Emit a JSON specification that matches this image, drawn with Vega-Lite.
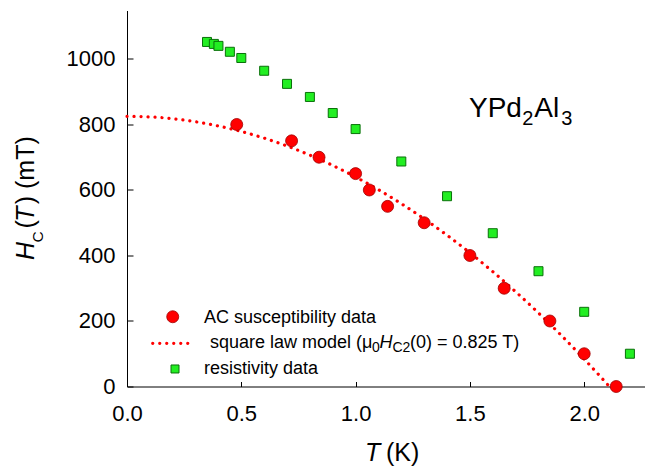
{
  "$schema": "https://vega.github.io/schema/vega-lite/v6.json",
  "width": 518,
  "height": 376,
  "autosize": {"type": "none"},
  "padding": {"left": 127, "top": 10.5, "right": 0, "bottom": 80.5},
  "background": "white",
  "config": {
    "view": {"stroke": null},
    "font": "Liberation Sans",
    "axis": {
      "grid": false,
      "title": null,
      "domainColor": "black",
      "domainWidth": 1,
      "tickColor": "black",
      "tickWidth": 1,
      "labelColor": "black",
      "labelFont": "Liberation Sans",
      "labelFontSize": 22,
      "labelFlush": false,
      "labelOverlap": false
    }
  },
  "encoding": {
    "x": {
      "field": "T",
      "type": "quantitative",
      "scale": {"domain": [0, 2.266], "nice": false, "zero": false},
      "axis": {"values": [0, 0.5, 1, 1.5, 2], "format": ".1f", "tickSize": -5, "labelPadding": 22}
    },
    "y": {
      "field": "H",
      "type": "quantitative",
      "scale": {"domain": [0, 1148], "nice": false, "zero": false},
      "axis": {"values": [0, 200, 400, 600, 800, 1000], "format": "d", "tickSize": -6, "labelPadding": 18}
    }
  },
  "layer": [
    {
      "data": {"values": [
        {"T": 0, "H": 825}, {"T": 0.1, "H": 823.1}, {"T": 0.2, "H": 817.6}, {"T": 0.3, "H": 808.3},
        {"T": 0.4, "H": 795.4}, {"T": 0.5, "H": 778.7}, {"T": 0.6, "H": 758.3}, {"T": 0.7, "H": 734.2},
        {"T": 0.8, "H": 706.4}, {"T": 0.9, "H": 674.9}, {"T": 1.0, "H": 639.7}, {"T": 1.1, "H": 600.8},
        {"T": 1.2, "H": 558.2}, {"T": 1.3, "H": 511.8}, {"T": 1.4, "H": 461.8}, {"T": 1.5, "H": 408.1},
        {"T": 1.6, "H": 350.6}, {"T": 1.7, "H": 289.5}, {"T": 1.8, "H": 224.6}, {"T": 1.9, "H": 156.0},
        {"T": 2.0, "H": 83.8}, {"T": 2.05, "H": 46.2}, {"T": 2.11, "H": 0}
      ]},
      "mark": {"type": "line", "color": "#ff0000", "strokeWidth": 3.2, "strokeDash": [0.1, 6.9], "strokeCap": "round", "interpolate": "monotone"}
    },
    {
      "data": {"values": [
        {"T": 0.35, "H": 1052}, {"T": 0.38, "H": 1046}, {"T": 0.40, "H": 1040}, {"T": 0.45, "H": 1022},
        {"T": 0.50, "H": 1003}, {"T": 0.60, "H": 964}, {"T": 0.70, "H": 924}, {"T": 0.80, "H": 884},
        {"T": 0.90, "H": 835}, {"T": 1.00, "H": 786}, {"T": 1.20, "H": 687}, {"T": 1.40, "H": 581},
        {"T": 1.60, "H": 468}, {"T": 1.80, "H": 352}, {"T": 2.00, "H": 228}, {"T": 2.20, "H": 100}
      ]},
      "mark": {"type": "point", "shape": "square", "filled": true, "fill": "#22ee22", "stroke": "#0a700a", "strokeWidth": 1, "size": 81, "opacity": 1}
    },
    {
      "data": {"values": [
        {"T": 0.48, "H": 800}, {"T": 0.72, "H": 750}, {"T": 0.84, "H": 700}, {"T": 1.00, "H": 650},
        {"T": 1.06, "H": 600}, {"T": 1.14, "H": 550}, {"T": 1.30, "H": 500}, {"T": 1.50, "H": 400},
        {"T": 1.65, "H": 300}, {"T": 1.85, "H": 200}, {"T": 2.00, "H": 100}, {"T": 2.14, "H": 0}
      ]},
      "mark": {"type": "point", "shape": "circle", "filled": true, "fill": "#ff0000", "stroke": "#a00000", "strokeWidth": 0.8, "size": 144, "opacity": 1}
    },
    {
      "data": {"values": [{"T": 0.2, "H": 213}]},
      "mark": {"type": "point", "shape": "circle", "filled": true, "fill": "#ff0000", "stroke": "#a00000", "strokeWidth": 0.8, "size": 144, "opacity": 1}
    },
    {
      "data": {"values": [{"T": 0.21, "H": 53.5}]},
      "mark": {"type": "point", "shape": "square", "filled": true, "fill": "#22ee22", "stroke": "#0a700a", "strokeWidth": 1, "size": 64, "opacity": 1}
    },
    {
      "data": {"values": [{"T": 0.1124, "T2": 0.2901, "H": 131.9}]},
      "mark": {"type": "rule", "color": "#ff0000", "strokeWidth": 3.2, "strokeDash": [0.1, 6.9], "strokeCap": "round"},
      "encoding": {"x2": {"field": "T2"}}
    },
    {
      "data": {"values": [
        {"t": "AC susceptibility data", "T": 0.3368, "H": 194.9},
        {"t": "square law model (μ", "T": 0.3631, "H": 117.0},
        {"t": "(0) = 0.825 T)", "T": 1.2380, "H": 117.0},
        {"t": "resistivity data", "T": 0.3368, "H": 39.1}
      ]},
      "mark": {"type": "text", "align": "left", "baseline": "alphabetic", "font": "Liberation Sans", "fontSize": 18, "color": "black"},
      "encoding": {"text": {"field": "t"}}
    },
    {
      "data": {"values": [
        {"t": "0", "T": 1.0717, "H": 104.8},
        {"t": "C2", "T": 1.1614, "H": 104.8}
      ]},
      "mark": {"type": "text", "align": "left", "baseline": "alphabetic", "font": "Liberation Sans", "fontSize": 14, "color": "black"},
      "encoding": {"text": {"field": "t"}}
    },
    {
      "data": {"values": [{"t": "H", "T": 1.1045, "H": 117.0}]},
      "mark": {"type": "text", "align": "left", "baseline": "alphabetic", "font": "Liberation Sans", "fontSize": 18, "fontStyle": "italic", "color": "black"},
      "encoding": {"text": {"field": "t"}}
    },
    {
      "data": {"values": [
        {"t": "YPd", "T": 1.4961, "H": 822.2},
        {"t": "Al", "T": 1.7817, "H": 822.2}
      ]},
      "mark": {"type": "text", "align": "left", "baseline": "alphabetic", "font": "Liberation Sans", "fontSize": 28, "color": "black"},
      "encoding": {"text": {"field": "t"}}
    },
    {
      "data": {"values": [
        {"t": "2", "T": 1.7292, "H": 798.7},
        {"t": "3", "T": 1.8998, "H": 798.7}
      ]},
      "mark": {"type": "text", "align": "left", "baseline": "alphabetic", "font": "Liberation Sans", "fontSize": 20, "color": "black"},
      "encoding": {"text": {"field": "t"}}
    },
    {
      "data": {"values": [{"t": "T", "T": 1.0411, "H": -227.5}]},
      "mark": {"type": "text", "align": "left", "baseline": "alphabetic", "font": "Liberation Sans", "fontSize": 25, "fontStyle": "italic", "color": "black"},
      "encoding": {"text": {"field": "t"}}
    },
    {
      "data": {"values": [{"t": "(K)", "T": 1.1330, "H": -227.5}]},
      "mark": {"type": "text", "align": "left", "baseline": "alphabetic", "font": "Liberation Sans", "fontSize": 25, "color": "black"},
      "encoding": {"text": {"field": "t"}}
    },
    {
      "data": {"values": [
        {"t": "H", "T": -0.4055, "H": 386.4},
        {"t": "T", "T": -0.4055, "H": 503.0}
      ]},
      "mark": {"type": "text", "align": "left", "baseline": "alphabetic", "angle": 270, "font": "Liberation Sans", "fontSize": 25, "fontStyle": "italic", "color": "black"},
      "encoding": {"text": {"field": "t"}}
    },
    {
      "data": {"values": [
        {"t": "(", "T": -0.4055, "H": 482.5},
        {"t": ") (mT)", "T": -0.4055, "H": 556.5}
      ]},
      "mark": {"type": "text", "align": "left", "baseline": "alphabetic", "angle": 270, "font": "Liberation Sans", "fontSize": 25, "color": "black"},
      "encoding": {"text": {"field": "t"}}
    },
    {
      "data": {"values": [{"t": "C", "T": -0.3688, "H": 440.0}]},
      "mark": {"type": "text", "align": "left", "baseline": "alphabetic", "angle": 270, "font": "Liberation Sans", "fontSize": 15.5, "color": "black"},
      "encoding": {"text": {"field": "t"}}
    }
  ]
}
